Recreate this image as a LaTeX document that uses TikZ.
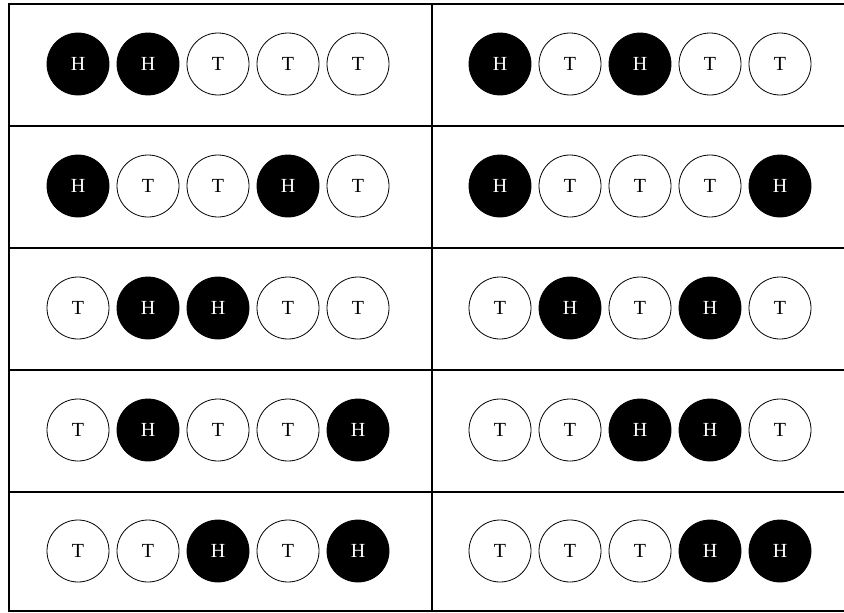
\documentclass[tikz,border=0pt]{standalone}
\usepackage{fontspec}
\setmainfont{Liberation Serif}
\begin{document}
\begin{tikzpicture}[x=1pt,y=-1pt,
  grid/.style={line width=2pt},
  coin/.style={circle,draw=black,line width=0.8pt,minimum size=62pt,inner sep=0pt,font=\fontsize{20}{20}\selectfont},
  coinH/.style={coin,fill=black,text=white},
  coinT/.style={coin,fill=white,text=black}]
\useasboundingbox (0,0) rectangle (844,613);
\draw[grid] (9,4) rectangle (853,611);
\draw[grid] (432,4) -- (432,611);
\foreach \yy in {126,248,370,492} \draw[grid] (9,\yy) -- (853,\yy);
% left column
\foreach \r/\yy/\pat in {1/64/{H,H,T,T,T},2/186/{H,T,T,H,T},3/308/{T,H,H,T,T},4/430/{T,H,T,T,H},5/551/{T,T,H,T,H}}{
  \foreach \c [count=\i] in \pat {
    \node[coin\c] (L\r\i) at ({8+70*\i},\yy) {\c};
  }
}
% right column
\foreach \r/\yy/\pat in {1/64/{H,T,H,T,T},2/186/{H,T,T,T,H},3/308/{T,H,T,H,T},4/430/{T,T,H,H,T},5/551/{T,T,T,H,H}}{
  \foreach \c [count=\i] in \pat {
    \node[coin\c] (R\r\i) at ({430+70*\i},\yy) {\c};
  }
}
\end{tikzpicture}
\end{document}
